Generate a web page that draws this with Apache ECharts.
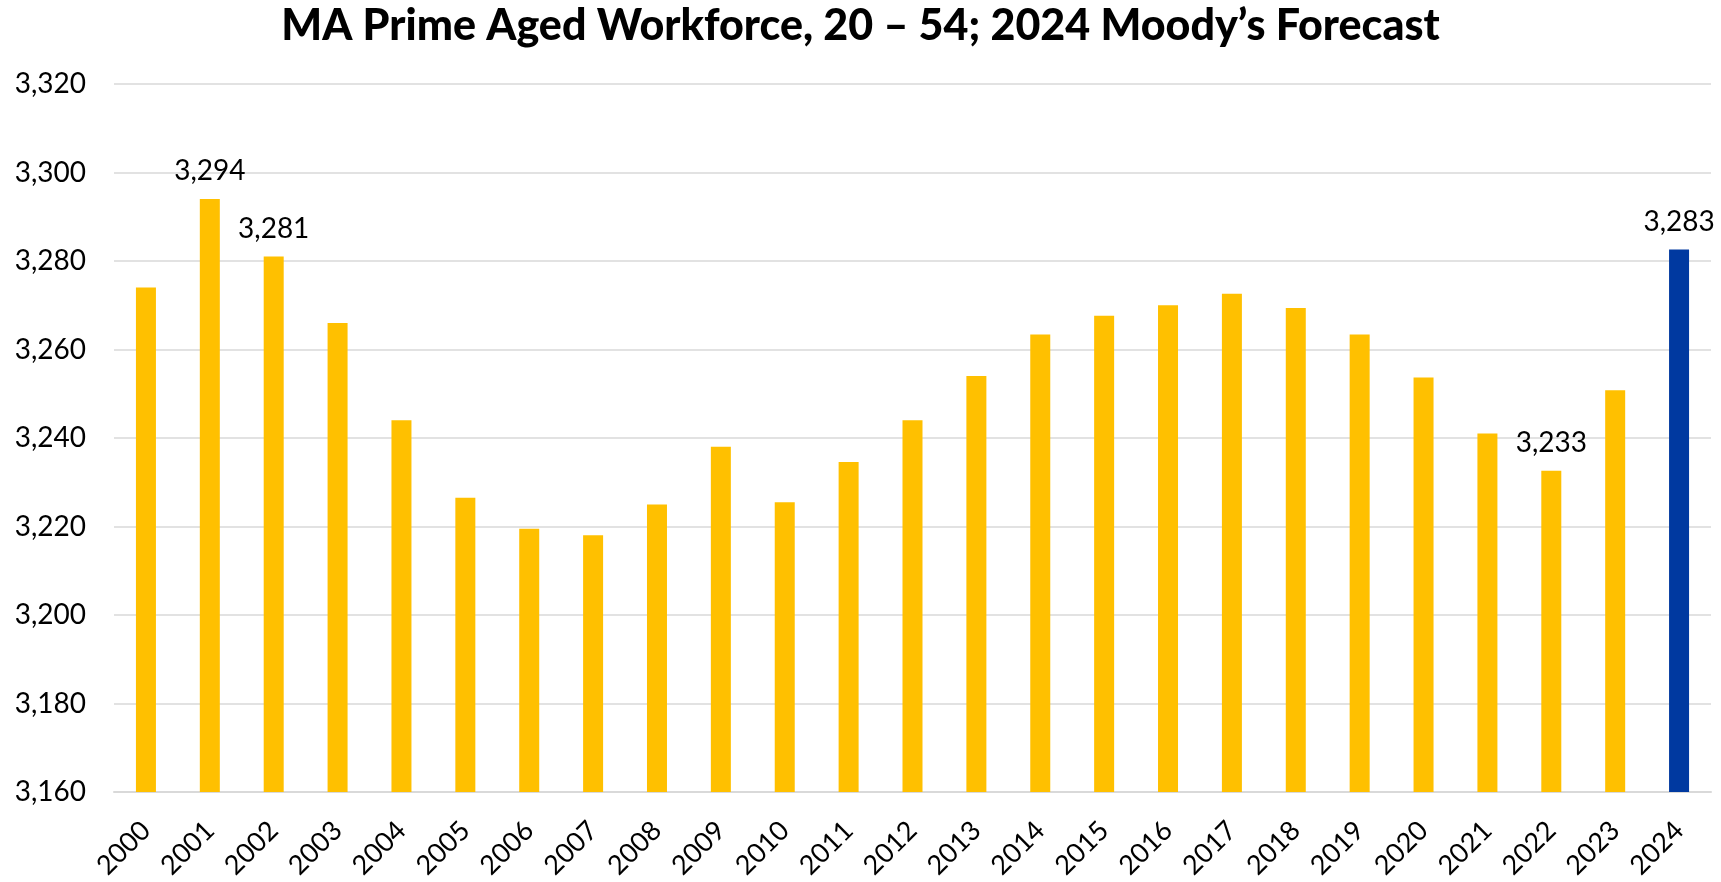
<!DOCTYPE html>
<html>
<head>
<meta charset="utf-8">
<script src="https://cdn.jsdelivr.net/npm/echarts@6/dist/echarts.min.js"></script>
<style>
  html, body { margin: 0; padding: 0; background: #fff; }
  #chart { width: 1721px; height: 882px; }
</style>
</head>
<body>
<div id="chart"></div>
<script>
const years = ["2000", "2001", "2002", "2003", "2004", "2005", "2006", "2007", "2008", "2009",
  "2010", "2011", "2012", "2013", "2014", "2015", "2016", "2017", "2018", "2019",
  "2020", "2021", "2022", "2023", "2024"];
const workforce = [3274, 3294, 3281, 3266, 3244, 3226.5, 3219.5, 3218, 3225, 3238,
  3225.5, 3234.6, 3244, 3254, 3263.4, 3267.6, 3270, 3272.6, 3269.4, 3263.4,
  3253.7, 3241, 3232.6, 3250.8, 3282.6];
const labelled = ["2001", "2002", "2022", "2024"];
const forecastYear = "2024";

const font = "Lato, 'Open Sans', sans-serif";

let chart = echarts.init(document.getElementById("chart"));
let options = {
  backgroundColor: "#ffffff",
  animation: false,
  title: {
    text: "MA Prime Aged Workforce, 20 – 54; 2024 Moody’s Forecast",
    left: "center",
    top: 0,
    textStyle: {
      fontFamily: font,
      fontSize: 43,
      fontWeight: 900,
      color: "#000",
    },
  },
  grid: {
    left: 114,
    right: 10,
    top: 84,
    bottom: 90,
    containLabel: false,
  },
  xAxis: {
    type: "category",
    data: years,
    axisTick: { show: false },
    axisLine: {
      show: true,
      lineStyle: { color: "#d9d9d9", width: 2 },
    },
    axisLabel: {
      rotate: 45,
      fontFamily: font,
      fontSize: 27,
      color: "#000",
      margin: 34,
      interval: 0,
    },
  },
  yAxis: {
    type: "value",
    min: 3160,
    max: 3320,
    interval: 20,
    axisLine: { show: false },
    axisTick: { show: false },
    axisLabel: {
      fontFamily: font,
      fontSize: 28,
      color: "#000",
      margin: 28,
      formatter: (v) => v.toLocaleString("en-US"),
    },
    splitLine: {
      show: true,
      lineStyle: { color: "#d9d9d9", width: 1.5 },
    },
  },
  series: [
    {
      type: "bar",
      barWidth: 20,
      data: workforce.map((v, i) => ({
        value: v,
        itemStyle: { color: years[i] === forecastYear ? "#0039a0" : "#ffc000" },
        label: {
          show: labelled.includes(years[i]),
          position: "top",
          distance: 14,
          fontFamily: font,
          fontSize: 28,
          color: "#000",
          formatter: (p) => Math.round(p.value).toLocaleString("en-US"),
        },
      })),
    },
  ],
};
chart.setOption(options, true);
</script>
</body>
</html>
